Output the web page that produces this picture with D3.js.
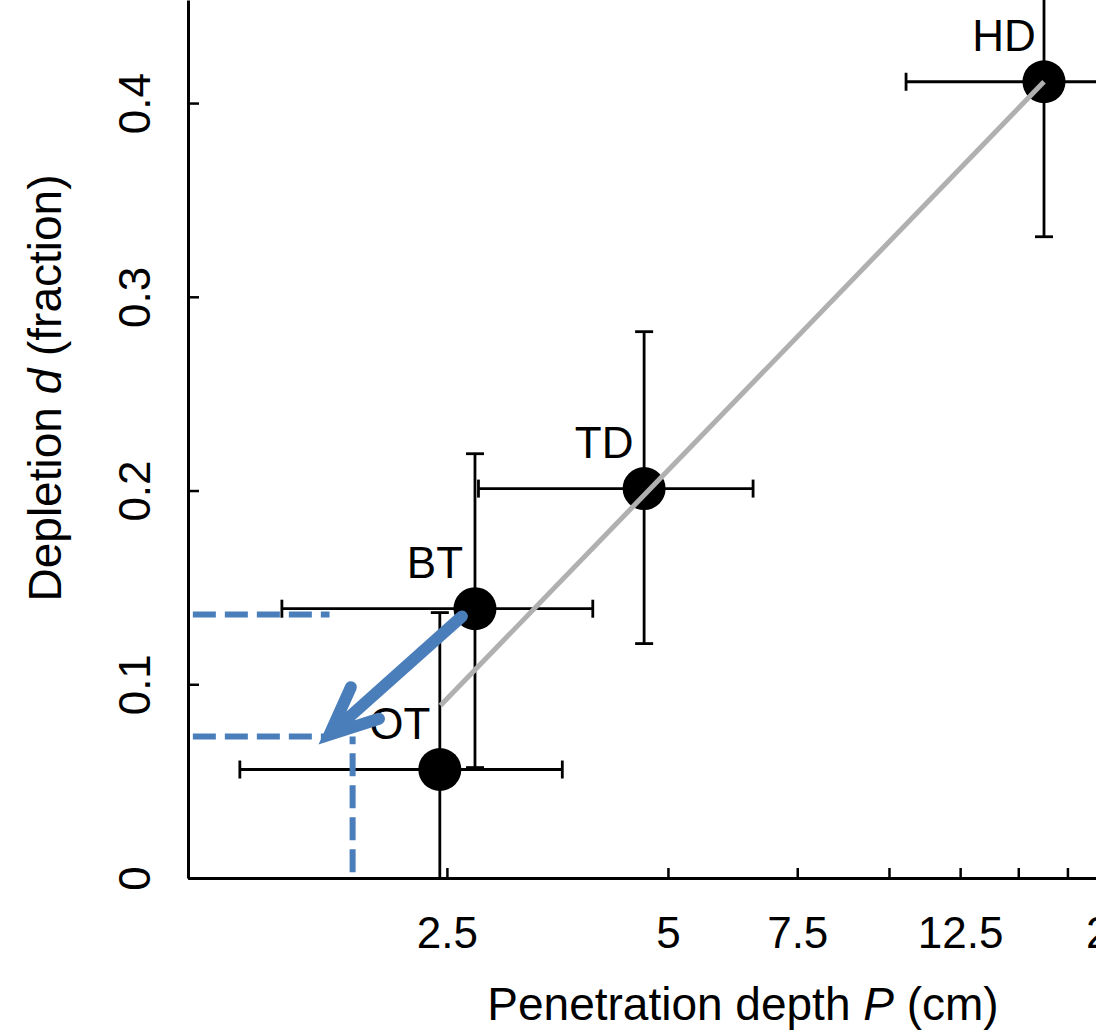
<!DOCTYPE html>
<html>
<head>
<meta charset="utf-8">
<script src="https://cdn.jsdelivr.net/npm/d3@7"></script>
<style>
  body { margin: 0; background: #fff; }
  svg { display: block; font-family: "Liberation Sans", Arial, sans-serif; }
</style>
</head>
<body>
<div id="chart-area"></div>
<script>
// data
const SITES = ["OT", "BT", "TD", "HD"]
const DEPTH = [2.445, 2.73, 4.64, 16.26]        // P (cm)
const DEPTH_LOW = [1.306, 1.49, 2.76, 10.55]
const DEPTH_HIGH = [3.59, 3.95, 6.53, 25.06]
const DEPLETION = [0.056, 0.139, 0.201, 0.411]  // d (fraction)
const DEPLETION_LOW = [-0.025, 0.057, 0.121, 0.331]
const DEPLETION_HIGH = [0.137, 0.219, 0.282, 0.491]

const FIT_P = [2.45, 16.26]
const FIT_D = [0.089, 0.411]

// blue guide: arrow BT -> projected point, plus dashed read-offs
const ARROW_P = [2.62, 1.73]
const ARROW_D = [0.135, 0.074]
const GUIDE_H_D = [0.136, 0.073]
const GUIDE_H_P = [1.127, 1.73]
const GUIDE_V_P = 1.86
const GUIDE_V_D = [0.003, 0.073]

const X_TICKS = [2.5, 5, 7.5, 10, 12.5, 15, 17.5, 20]
const X_TICK_LABELS = ["2.5", "5", "7.5", "", "12.5", "", "", "20"]
const Y_TICKS = [0, 0.1, 0.2, 0.3, 0.4]
const Y_TICK_LABELS = ["0", "0.1", "0.2", "0.3", "0.4"]

const W = 1096
const H = 1030
const LEFT = 188
const BASE = 878
const BLUE = "#4a7ebb"

const svg = d3.select("#chart-area").append("svg")
  .attr("width", W)
  .attr("height", H)

const x = d3.scaleLog()
  .domain([1.11, 19.14])
  .range([LEFT, W])

const y = d3.scaleLinear()
  .domain([0, 0.4532])
  .range([BASE, 0])

svg.append("clipPath").attr("id", "plot")
  .append("rect")
  .attr("x", LEFT).attr("y", 0)
  .attr("width", W - LEFT).attr("height", BASE)

const data = SITES.map((s, i) => ({
  site: s, p: DEPTH[i], pLo: DEPTH_LOW[i], pHi: DEPTH_HIGH[i],
  d: DEPLETION[i], dLo: DEPLETION_LOW[i], dHi: DEPLETION_HIGH[i]
}))

const plot = svg.append("g").attr("clip-path", "url(#plot)")

// error bars
const CAP = 9
const bars = plot.append("g")
  .attr("stroke", "#000")
  .attr("stroke-width", 2.8)
  .attr("fill", "none")

data.forEach(d => {
  bars.append("line")
    .attr("x1", x(d.pLo)).attr("x2", x(d.pHi))
    .attr("y1", y(d.d)).attr("y2", y(d.d))
  bars.append("line")
    .attr("x1", x(d.p)).attr("x2", x(d.p))
    .attr("y1", y(d.dLo)).attr("y2", y(d.dHi))
  ;[d.pLo, d.pHi].forEach(v => {
    bars.append("line")
      .attr("x1", x(v)).attr("x2", x(v))
      .attr("y1", y(d.d) - CAP).attr("y2", y(d.d) + CAP)
  })
  ;[d.dLo, d.dHi].forEach(v => {
    bars.append("line")
      .attr("x1", x(d.p) - CAP).attr("x2", x(d.p) + CAP)
      .attr("y1", y(v)).attr("y2", y(v))
  })
})

// points
plot.selectAll("circle")
  .data(data)
  .enter().append("circle")
    .attr("cx", d => x(d.p))
    .attr("cy", d => y(d.d))
    .attr("r", 21.5)
    .attr("fill", "#000")

// regression line
plot.append("line")
  .attr("x1", x(FIT_P[0])).attr("y1", y(FIT_D[0]))
  .attr("x2", x(FIT_P[1])).attr("y2", y(FIT_D[1]))
  .attr("stroke", "#b0b0b0")
  .attr("stroke-width", 5)

// axes
const xAxis = d3.axisBottom(x)
  .tickValues(X_TICKS)
  .tickFormat((d, i) => X_TICK_LABELS[i])
  .tickSizeInner(-10)
  .tickSizeOuter(0)

const xAxisGroup = svg.append("g")
  .attr("transform", `translate(0, ${BASE})`)
  .call(xAxis)

const yAxis = d3.axisLeft(y)
  .tickValues(Y_TICKS)
  .tickFormat((d, i) => Y_TICK_LABELS[i])
  .tickSizeInner(-11)
  .tickSizeOuter(0)

const yAxisGroup = svg.append("g")
  .attr("transform", `translate(${LEFT}, 0)`)
  .call(yAxis)

;[xAxisGroup, yAxisGroup].forEach(g => {
  g.select(".domain").attr("stroke", "#000").attr("stroke-width", 3)
  g.selectAll(".tick line").attr("stroke", "#000").attr("stroke-width", 2.5)
  g.selectAll(".tick text")
    .attr("fill", "#000")
    .attr("font-size", "44px")
    .attr("font-family", "'Liberation Sans', Arial, sans-serif")
})

xAxisGroup.selectAll(".tick text")
  .attr("y", 70)
  .attr("dy", null)

yAxisGroup.selectAll(".tick text")
  .attr("x", null)
  .attr("dy", null)
  .attr("text-anchor", "middle")
  .attr("transform", "translate(-38, 0) rotate(-90)")

// axis titles
const xLabel = svg.append("text")
  .attr("x", 743)
  .attr("y", 1020)
  .attr("font-size", "46px")
  .attr("text-anchor", "middle")
xLabel.append("tspan").text("Penetration depth ")
xLabel.append("tspan").attr("font-style", "italic").text("P")
xLabel.append("tspan").text(" (cm)")

const yLabel = svg.append("text")
  .attr("transform", "translate(61, 388) rotate(-90)")
  .attr("font-size", "46px")
  .attr("text-anchor", "middle")
yLabel.append("tspan").text("Depletion ")
yLabel.append("tspan").attr("font-style", "italic").text("d")
yLabel.append("tspan").text(" (fraction)")

// site labels
svg.selectAll(".site-label")
  .data(data)
  .enter().append("text")
    .attr("class", "site-label")
    .attr("x", d => x(d.p) - 40)
    .attr("y", d => y(d.d) - 31)
    .attr("font-size", "44px")
    .attr("text-anchor", "middle")
    .text(d => d.site)

// blue dashed read-off lines
const guides = svg.append("g")
  .attr("stroke", BLUE)
  .attr("stroke-width", 6)
  .attr("stroke-dasharray", "23 9")
  .attr("fill", "none")

GUIDE_H_D.forEach(v => {
  guides.append("line")
    .attr("x1", x(GUIDE_H_P[0])).attr("x2", x(GUIDE_H_P[1]))
    .attr("y1", y(v)).attr("y2", y(v))
})
guides.append("line")
  .attr("x1", x(GUIDE_V_P)).attr("x2", x(GUIDE_V_P))
  .attr("y1", y(GUIDE_V_D[0])).attr("y2", y(GUIDE_V_D[1]))

// blue arrow
const ax0 = x(ARROW_P[0]), ay0 = y(ARROW_D[0])
const ax1 = x(ARROW_P[1]), ay1 = y(ARROW_D[1])
const ang = Math.atan2(ay0 - ay1, ax0 - ax1)
const HEAD = 52
const SPREAD = 24 * Math.PI / 180
const headPts = [ang - SPREAD, ang + SPREAD].map(a => [ax1 + HEAD * Math.cos(a), ay1 + HEAD * Math.sin(a)])

svg.append("path")
  .attr("d", `M${ax0},${ay0}L${ax1},${ay1}M${headPts[0]}L${ax1},${ay1}L${headPts[1]}`)
  .attr("stroke", BLUE)
  .attr("stroke-width", 12)
  .attr("stroke-linecap", "round")
  .attr("stroke-linejoin", "miter")
  .attr("fill", "none")
</script>
</body>
</html>
